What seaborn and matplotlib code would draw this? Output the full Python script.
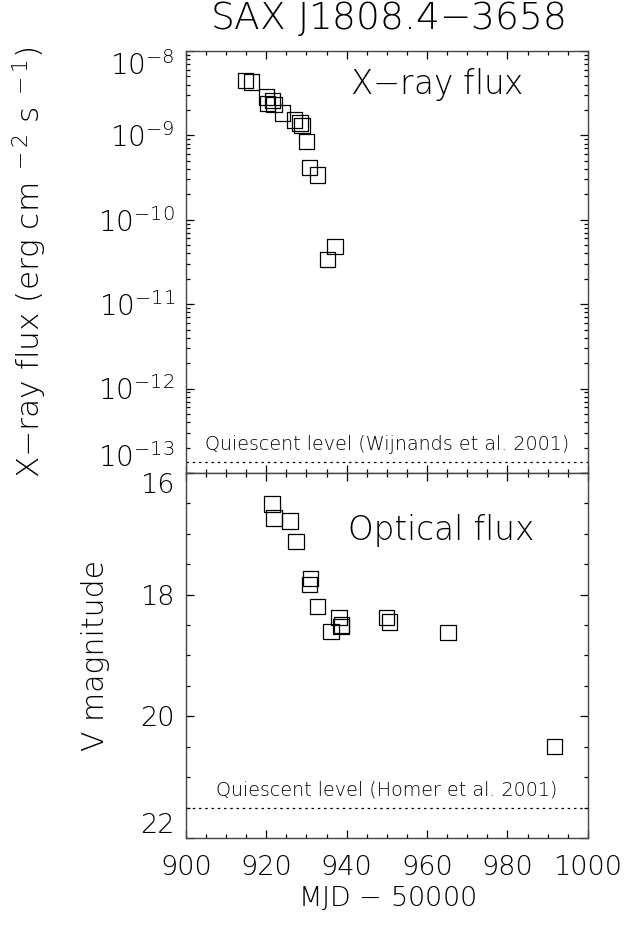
# -*- coding: utf-8 -*-
# SAX J1808.4-3658 X-ray and optical light curves

# ------------------------
# import packages
# ------------------------
import numpy as np
import pandas as pd
import matplotlib
matplotlib.use("Agg")
import matplotlib.pyplot as plt
import matplotlib.ticker as mticker
import seaborn as sns

# ------------------------
# data
# ------------------------
xray_mjd = [914.9, 916.4, 920.1, 921.6, 921.9, 920.4, 924.1,
            927.1, 928.4, 928.9, 930.1, 930.8, 932.8, 937.1, 935.3]
xray_flux = [4.5e-9, 4.3e-9, 2.85e-9, 2.6e-9, 2.34e-9, 2.4e-9, 1.84e-9,
             1.52e-9, 1.4e-9, 1.32e-9, 8.5e-10, 4.2e-10, 3.4e-10, 4.8e-11, 3.4e-11]

opt_mjd = [921.4, 921.9, 925.9, 927.4, 931.1, 930.8, 932.8,
           938.1, 936.1, 938.6, 938.8, 950.0, 950.7, 965.2, 991.8]
opt_vmag = [16.51, 16.74, 16.79, 17.13, 17.74, 17.83, 18.19,
            18.37, 18.60, 18.52, 18.50, 18.37, 18.45, 18.62, 20.49]

xray_quiescent = 1.35e-13
opt_quiescent = 21.5

x_ticks = [900, 920, 940, 960, 980, 1000]
flux_ticks = [1e-13, 1e-12, 1e-11, 1e-10, 1e-9, 1e-8]
mag_ticks = [16, 18, 20, 22]

dx = pd.DataFrame({"mjd": xray_mjd, "flux": xray_flux})
do = pd.DataFrame({"mjd": opt_mjd, "vmag": opt_vmag})

# ------------------------
# style
# ------------------------
sns.set_style("ticks")
plt.rcParams['font.family'] = ['DejaVu Sans']
plt.rcParams['font.weight'] = 'light'
plt.rcParams['axes.labelweight'] = 'light'
plt.rcParams['text.color'] = 'black'
plt.rcParams['axes.labelcolor'] = 'black'
plt.rcParams['xtick.color'] = 'black'
plt.rcParams['ytick.color'] = 'black'
plt.rcParams['mathtext.fontset'] = 'custom'
plt.rcParams['mathtext.rm'] = 'DejaVu Sans:light'
plt.rcParams['mathtext.default'] = 'regular'
plt.rcParams['axes.linewidth'] = 1.0
plt.rcParams['axes.edgecolor'] = '#444444'

fig = plt.figure(figsize=(6.28, 9.27), dpi=100)
ax1 = fig.add_axes([0.296, 0.4898, 0.640, 0.4552])
ax2 = fig.add_axes([0.296, 0.0960, 0.640, 0.3938])

mk = dict(marker='s', s=120, facecolor='none', edgecolor='black', linewidth=0.9, legend=False)

# X-ray panel
sns.scatterplot(data=dx, x="mjd", y="flux", ax=ax1, **mk)
ax1.set_yscale('log')
ax1.set_ylim(1e-13 * 0.999, 1e-8)
ax1.set_xlim(900, 1000)
ax1.axhline(xray_quiescent, color='black', linestyle=(0, (2, 3)), linewidth=0.9)
ax1.text(950.0, 2.2e-13, "Quiescent level (Wijnands et al. 2001)", ha='center', va='center', fontsize=13.8)
ax1.text(940.8, 4.0e-9, r"X$-$ray flux", ha='left', va='center', fontsize=23.5)
ax1.set_xticks(x_ticks)
ax1.xaxis.set_minor_locator(mticker.MultipleLocator(5))
ax1.set_xticklabels([])
ax1.yaxis.set_major_locator(mticker.FixedLocator(flux_ticks))
ax1.yaxis.set_minor_locator(mticker.LogLocator(base=10, subs=np.arange(2, 10), numticks=10))
ax1.yaxis.set_major_formatter(mticker.FuncFormatter(lambda v, p: r"$10^{%d}$" % round(np.log10(v))))
ax1.yaxis.set_minor_formatter(mticker.NullFormatter())
ax1.set_xlabel("")
ax1.set_ylabel(r"X$-$ray flux (erg cm$^{\ -2}$ s$^{\ -1}$)", fontsize=22.5)
ax1.yaxis.set_label_coords(-0.34, 0.5)
ax1.tick_params(axis='y', which='major', labelsize=20)

# optical panel
sns.scatterplot(data=do, x="mjd", y="vmag", ax=ax2, **mk)
ax2.set_xlim(900, 1000)
ax2.set_ylim(22, 16)
ax2.axhline(opt_quiescent, color='black', linestyle=(0, (2, 3)), linewidth=0.9)
ax2.text(950.0, 21.21, "Quiescent level (Homer et al. 2001)", ha='center', va='center', fontsize=13.8)
ax2.text(940.3, 16.94, "Optical flux", ha='left', va='center', fontsize=23.5)
ax2.set_xticks(x_ticks)
ax2.xaxis.set_minor_locator(mticker.MultipleLocator(5))
ax2.set_yticks(mag_ticks)
ax2.yaxis.set_minor_locator(mticker.MultipleLocator(0.5))
ax2.set_xlabel(r"MJD $-$ 50000", fontsize=19.5)
ax2.set_ylabel("V magnitude", fontsize=21.5)
ax2.yaxis.set_label_coords(-0.19, 0.5)
ax2.tick_params(axis='both', which='major', labelsize=19.5)
ax2.tick_params(axis='x', which='major', pad=12)

for ax in (ax1, ax2):
    ax.tick_params(which='both', direction='in', top=True, right=True, width=0.9)
    ax.tick_params(axis='y', which='major', length=6, pad=8)
    ax.tick_params(axis='x', which='major', length=6)
    ax.tick_params(which='minor', length=3)

# keep end labels inside the panel, as in the original
fig.canvas.draw()
for lab in ax1.get_yticklabels():
    v = lab.get_position()[1]
    if np.isclose(np.log10(v), -13):
        lab.set_va('bottom')
    elif np.isclose(np.log10(v), -8):
        lab.set_va('top')
for lab in ax2.get_yticklabels():
    v = lab.get_position()[1]
    if v == 16:
        lab.set_va('top')
    elif v == 22:
        lab.set_va('bottom')

fig.text(0.616, 0.98, r"SAX J1808.4$-$3658", ha='center', va='center', fontsize=27)

fig.savefig("out.png", dpi=100)
